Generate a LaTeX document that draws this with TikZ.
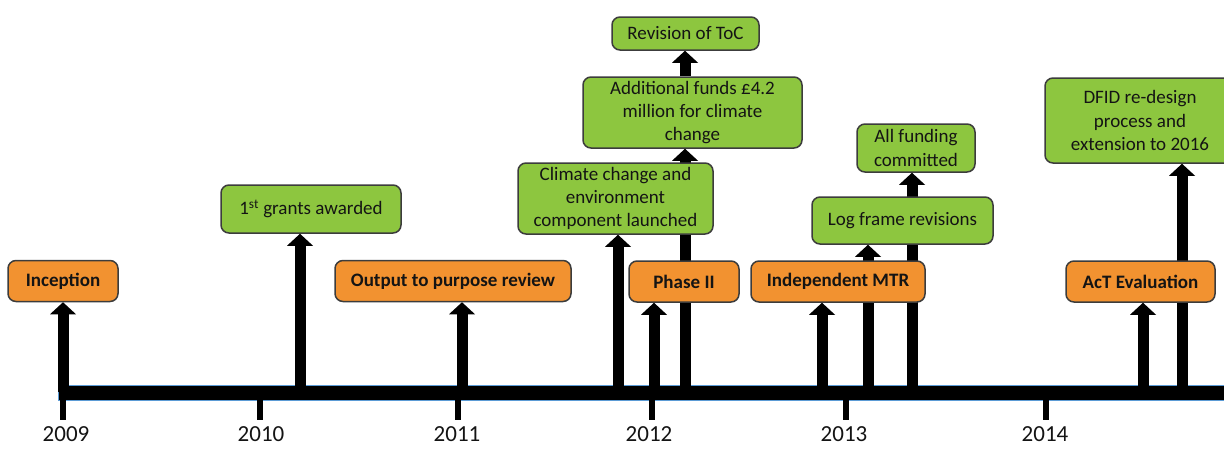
\documentclass[tikz,border=0pt]{standalone}
\usepackage{fontspec}
\setmainfont{Carlito}
\usetikzlibrary{arrows.meta,backgrounds}
\definecolor{boxgreen}{RGB}{141,198,63}
\definecolor{boxorange}{RGB}{242,146,48}
\definecolor{boxborder}{RGB}{60,60,60}
\definecolor{barblue}{RGB}{91,155,213}
\definecolor{txt}{RGB}{20,20,20}
\begin{document}
\begin{tikzpicture}[x=1pt,y=-1pt,
 box/.style={draw=boxborder, line width=1.5pt, rounded corners=8pt, align=center, inner sep=0pt, text=txt, font=\fontsize{19}{23.3}\selectfont},
 gbox/.style={box, fill=boxgreen},
 obox/.style={box, fill=boxorange, font=\fontsize{19}{23.3}\selectfont\bfseries},
 bigarrow/.style={line width=11pt, -{Triangle[width=26pt,length=12pt,line width=0pt]}},
 tickline/.style={line width=6pt},
 barstyle/.style={fill=black, draw=barblue, line width=0.8pt},
 yearlabel/.style={font=\fontsize{23}{27}\selectfont, text=txt, anchor=base, inner sep=0pt}
]
\useasboundingbox (0,0) rectangle (1224,448);

% boxes
\node[obox, minimum width=110pt, minimum height=41pt] (inception) at (63,281) {Inception};
\node[gbox, minimum width=180pt, minimum height=48pt] (grants) at (311,209) {1\textsuperscript{st} grants awarded};
\node[obox, minimum width=236pt, minimum height=41pt] (output) at (453,281) {Output to purpose review};
\node[gbox, minimum width=195pt, minimum height=71pt] (climate) at (615.5,198.5) {Climate change and\\environment\\component launched};
\node[gbox, minimum width=219pt, minimum height=71pt] (addfunds) at (692.5,112.5) {Additional funds £4.2\\million for climate\\change};
\node[gbox, minimum width=147pt, minimum height=33pt] (revision) at (685.5,33.5) {Revision of ToC};
\node[obox, minimum width=110pt, minimum height=41pt] (phase) at (684,281.5) {Phase II};
\node[obox, minimum width=174pt, minimum height=41pt] (mtr) at (838,281.5) {Independent MTR};
\node[gbox, minimum width=181pt, minimum height=47pt] (logframe) at (902.5,220.5) {Log frame revisions};
\node[gbox, minimum width=118pt, minimum height=48pt] (allfund) at (916,148) {All funding\\committed};
\node[obox, minimum width=149pt, minimum height=41pt] (act) at (1140.5,281.5) {AcT Evaluation};
\node[gbox, minimum width=190pt, minimum height=85pt] (dfid) at (1140,120.5) {DFID re-design\\process and\\extension to 2016};

% year labels
\node[yearlabel] (y2009) at (66,441) {2009};
\node[yearlabel] (y2010) at (261,441) {2010};
\node[yearlabel] (y2011) at (457,441) {2011};
\node[yearlabel] (y2012) at (649,441) {2012};
\node[yearlabel] (y2013) at (844,441) {2013};
\node[yearlabel] (y2014) at (1045,441) {2014};

% points on the bar
\coordinate (pInc) at (63,392);
\coordinate (pGra) at (300,392);
\coordinate (pOut) at (462,392);
\coordinate (pCli) at (618,392);
\coordinate (pPha) at (654,392);
\coordinate (pAdd) at (685,392);
\coordinate (pMtr) at (822,392);
\coordinate (pLog) at (868,392);
\coordinate (pAll) at (912,392);
\coordinate (pAct) at (1143,392);
\coordinate (pDfi) at (1182,392);

\begin{pgfonlayer}{background}
\draw[barstyle] (58,385) rectangle (1232,400);
\foreach \x in {63,260,458,652,846,1046} \draw[tickline] (\x,392) -- (\x,420);
\draw[bigarrow] (pInc) -- (pInc |- inception.south);
\draw[bigarrow] (pGra) -- (pGra |- grants.south);
\draw[bigarrow] (pOut) -- (pOut |- output.south);
\draw[bigarrow] (pCli) -- (pCli |- climate.south);
\draw[bigarrow] (pPha) -- (pPha |- phase.south);
\draw[bigarrow] (pAdd) -- (pAdd |- addfunds.south);
\draw[bigarrow] (pAdd |- addfunds.north) -- (pAdd |- revision.south);
\draw[bigarrow] (pMtr) -- (pMtr |- mtr.south);
\draw[bigarrow] (pLog) -- (pLog |- logframe.south);
\draw[bigarrow] (pAll) -- (pAll |- allfund.south);
\draw[bigarrow] (pAct) -- (pAct |- act.south);
\draw[bigarrow] (pDfi) -- (pDfi |- dfid.south);
\end{pgfonlayer}
\end{tikzpicture}
\end{document}
